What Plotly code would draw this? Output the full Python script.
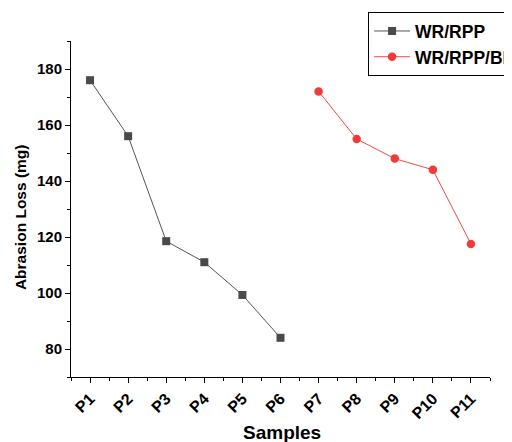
import plotly.graph_objects as go

categories = ["P1", "P2", "P3", "P4", "P5", "P6", "P7", "P8", "P9", "P10", "P11"]
wr_rpp_samples = ["P1", "P2", "P3", "P4", "P5", "P6"]
wr_rpp_values = [176, 156, 118.5, 111, 99.3, 84]
wr_rpp_bf_samples = ["P7", "P8", "P9", "P10", "P11"]
wr_rpp_bf_values = [172, 155, 148, 144, 117.5]
y_ticks = [80, 100, 120, 140, 160, 180]

idx = {c: i for i, c in enumerate(categories)}
font_fam = "Liberation Sans, Arial, sans-serif"

fig = go.Figure()
fig.add_trace(go.Scatter(
    x=[idx[c] for c in wr_rpp_samples], y=wr_rpp_values, name="WR/RPP",
    mode="lines+markers",
    line=dict(color="#555555", width=1),
    marker=dict(symbol="square", size=8, color="#4a4a4a"),
))
fig.add_trace(go.Scatter(
    x=[idx[c] for c in wr_rpp_bf_samples], y=wr_rpp_bf_values, name="WR/RPP/BF",
    mode="lines+markers",
    line=dict(color="#f04848", width=1),
    marker=dict(symbol="circle", size=8.5, color="#f23a3a"),
))

fig.update_layout(
    width=512, height=442,
    margin=dict(l=63, r=30, t=33, b=73, autoexpand=False),
    paper_bgcolor="white", plot_bgcolor="white",
    font=dict(family=font_fam, color="black"),
    showlegend=True,
    legend=dict(
        x=0.709, y=1.086, xanchor="left", yanchor="top",
        bordercolor="black", borderwidth=1, bgcolor="white",
        font=dict(family=font_fam, size=17.5, color="black", weight="bold"),
        tracegroupgap=0, itemwidth=36,
    ),
    xaxis=dict(
        range=[-0.5, 10.5], tickmode="array",
        tickvals=list(range(len(categories))), ticktext=categories,
        tickangle=-45, ticks="outside", ticklen=5, tickcolor="black",
        showline=True, linecolor="black", linewidth=1,
        showgrid=False, zeroline=False,
        tickfont=dict(family=font_fam, size=16, color="black", weight="bold"),
        minor=dict(tickmode="linear", tick0=-0.5, dtick=0.5, ticks="outside", ticklen=3, tickcolor="black", showgrid=False),
    ),
    yaxis=dict(
        range=[70, 190], tickmode="array", tickvals=y_ticks,
        ticks="outside", ticklen=5, tickcolor="black",
        showline=True, linecolor="black", linewidth=1,
        showgrid=False, zeroline=False,
        tickfont=dict(family=font_fam, size=15, color="black", weight="bold"),
        minor=dict(tickmode="linear", tick0=70, dtick=10, ticks="outside", ticklen=3, tickcolor="black", showgrid=False),
    ),
    annotations=[
        dict(text="Samples", xref="paper", yref="paper", x=0.5036, y=-0.1637,
             xanchor="center", yanchor="middle", showarrow=False,
             font=dict(family=font_fam, size=19, color="black", weight="bold")),
        dict(text="Abrasion Loss (mg)", xref="paper", yref="paper", x=-0.1217, y=0.476,
             xanchor="center", yanchor="middle", showarrow=False, textangle=-90,
             font=dict(family=font_fam, size=15.5, color="black", weight="bold")),
    ],
)

fig.write_html("out.html")
